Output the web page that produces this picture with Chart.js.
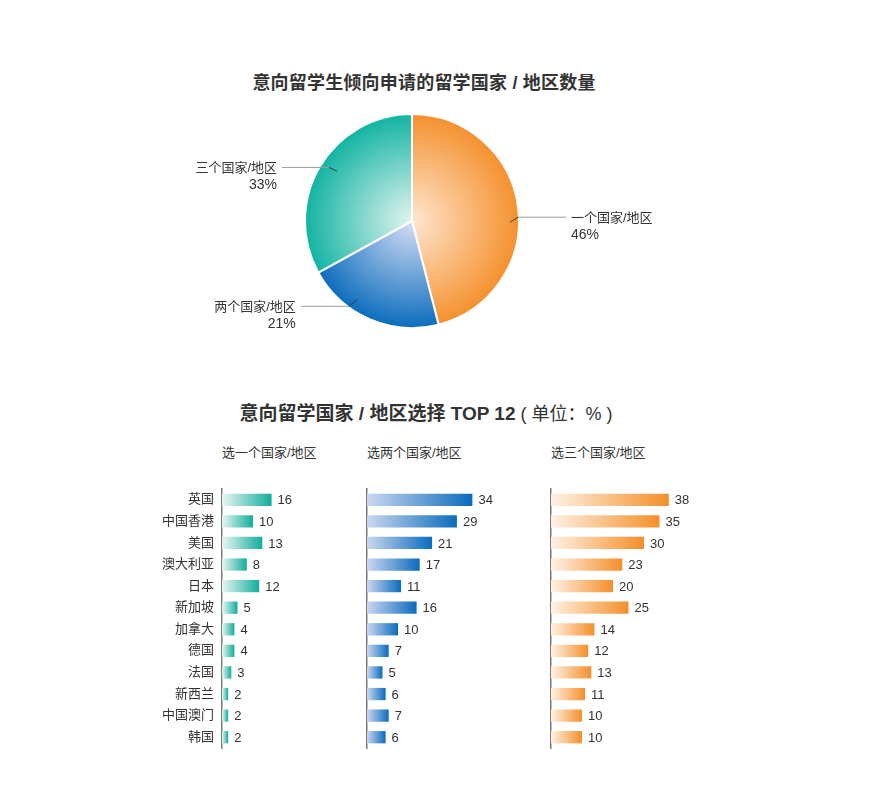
<!DOCTYPE html>
<html>
<head>
<meta charset="utf-8">
<script src="https://cdn.jsdelivr.net/npm/chart.js@4.4.0/dist/chart.umd.min.js"></script>
<style>
  body { margin: 0; background: #fff; width: 875px; height: 809px; position: relative; overflow: hidden;
         font-family: "Liberation Sans", "Noto Sans CJK SC", sans-serif; color: #333; }
  .t { position: absolute; white-space: nowrap; line-height: 20px; }
  canvas { position: absolute; }
</style>
</head>
<body>
<div class="t" style="left:0;width:848px;text-align:center;top:73px;font-size:18px;font-weight:bold;letter-spacing:0.2px;">意向留学生倾向申请的留学国家 / 地区数量</div>
<div class="t" style="left:0;width:852px;text-align:center;top:404px;font-size:18px;">
  <b style="font-size:19px;">意向留学国家 / 地区选择 TOP 12</b> ( 单位：% )
</div>
<div class="t" style="left:222px;top:443px;font-size:13px;">选一个国家/地区</div>
<div class="t" style="left:367px;top:443px;font-size:13px;">选两个国家/地区</div>
<div class="t" style="left:551px;top:443px;font-size:13px;">选三个国家/地区</div>

<canvas id="pie" width="524" height="244" style="left:150px;top:100px;"></canvas>
<canvas id="bar1" width="236" height="280" style="left:140px;top:480px;"></canvas>
<canvas id="bar2" width="164" height="280" style="left:357px;top:480px;"></canvas>
<canvas id="bar3" width="164" height="280" style="left:541px;top:480px;"></canvas>

<script>
const FONT = '"Liberation Sans", "Noto Sans CJK SC", sans-serif';

// pie data
const pieLabels = ["一个国家/地区", "两个国家/地区", "三个国家/地区"];
const pieValues = [46, 21, 33];

// bar data (%)
const countries = ["英国", "中国香港", "美国", "澳大利亚", "日本", "新加坡", "加拿大", "德国", "法国", "新西兰", "中国澳门", "韩国"];
const oneValues = [16, 10, 13, 8, 12, 5, 4, 4, 3, 2, 2, 2];
const twoValues = [34, 29, 21, 17, 11, 16, 10, 7, 5, 6, 7, 6];
const threeValues = [38, 35, 30, 23, 20, 25, 14, 12, 13, 11, 10, 10];

const pieColors = [["#fee6d0", "#f4902c"], ["#d6def4", "#0a6cbd"], ["#e4f4f0", "#10b3a2"]];

const radialFill = (ctx) => {
  const [inner, outer] = pieColors[ctx.dataIndex];
  const area = ctx.chart.chartArea;
  if (!area) return outer;
  const cx = (area.left + area.right) / 2;
  const cy = (area.top + area.bottom) / 2;
  const r = Math.min(area.width, area.height) / 2;
  const g = ctx.chart.ctx.createRadialGradient(cx, cy, 0, cx, cy, r);
  g.addColorStop(0, inner);
  g.addColorStop(1, outer);
  return g;
};

// leader line placement for each slice label
const leaders = [
  { deg: 0.7, rf: 0.916, bend: [8, -5], run: 48 },
  { deg: 124.7, rf: 0.89, bend: [-9, 7], run: -48 },
  { deg: 213.5, rf: 0.84, bend: [-8, -4], run: -47 },
];

const pieLabelPlugin = {
  id: "pieLabels",
  afterDatasetsDraw(chart) {
    const { ctx } = chart;
    const meta = chart.getDatasetMeta(0);
    ctx.save();
    meta.data.forEach((arc, i) => {
      const l = leaders[i];
      const a = (l.deg * Math.PI) / 180;
      const x0 = arc.x + Math.cos(a) * arc.outerRadius * l.rf;
      const y0 = arc.y + Math.sin(a) * arc.outerRadius * l.rf;
      const x1 = x0 + l.bend[0];
      const y1 = y0 + l.bend[1];
      const x2 = x1 + l.run;
      ctx.lineWidth = 1;
      ctx.strokeStyle = "#3a3a3a";
      ctx.beginPath();
      ctx.moveTo(x0, y0);
      ctx.lineTo(x1, y1);
      ctx.stroke();
      ctx.strokeStyle = "#9a9a9a";
      ctx.beginPath();
      ctx.moveTo(x1, y1);
      ctx.lineTo(x2, y1);
      ctx.stroke();
      const right = l.run > 0;
      const tx = right ? x2 + 5 : x2 - 5;
      ctx.textAlign = right ? "left" : "right";
      ctx.textBaseline = "middle";
      ctx.fillStyle = "#333";
      ctx.font = "13px " + FONT;
      ctx.fillText(pieLabels[i], tx, y1 + 1);
      ctx.font = "14px " + FONT;
      ctx.fillText(pieValues[i] + "%", tx, y1 + 18);
    });
    ctx.restore();
  },
};

new Chart(document.getElementById("pie"), {
  type: "pie",
  data: {
    labels: pieLabels,
    datasets: [{ data: pieValues, backgroundColor: radialFill, borderColor: "#fff", borderWidth: 2 }],
  },
  options: {
    responsive: false,
    animation: false,
    layout: { padding: { left: 154, right: 154, top: 13, bottom: 15 } },
    plugins: { legend: { display: false }, tooltip: { enabled: false } },
  },
  plugins: [pieLabelPlugin],
});

const barColors = {
  one: ["#e8f6f3", "#12ad9c"],
  two: ["#cbd7f0", "#0a6cbd"],
  three: ["#fff2e5", "#f48f2a"],
};

const valueLabels = {
  id: "valueLabels",
  afterDatasetsDraw(chart) {
    const { ctx } = chart;
    const meta = chart.getDatasetMeta(0);
    const data = chart.data.datasets[0].data;
    ctx.save();
    ctx.font = "13px " + FONT;
    ctx.fillStyle = "#333";
    ctx.textAlign = "left";
    ctx.textBaseline = "middle";
    meta.data.forEach((bar, i) => ctx.fillText(String(data[i]), bar.x + 6, bar.y + 1));
    ctx.restore();
  },
};

const buildBars = (id, values, colors, axisWidth, showNames) => {
  new Chart(document.getElementById(id), {
    type: "bar",
    data: {
      labels: countries,
      datasets: [{
        data: values,
        barPercentage: 0.57,
        categoryPercentage: 1,
        backgroundColor: (ctx) => {
          const xs = ctx.chart.scales.x;
          if (!xs || !ctx.chart.chartArea) return colors[1];
          const x0 = xs.getPixelForValue(0);
          const x1 = xs.getPixelForValue(ctx.raw);
          const g = ctx.chart.ctx.createLinearGradient(x0, 0, Math.max(x1, x0 + 1), 0);
          g.addColorStop(0, colors[0]);
          g.addColorStop(1, colors[1]);
          return g;
        },
      }],
    },
    options: {
      indexAxis: "y",
      responsive: false,
      animation: false,
      layout: { padding: { left: 0, right: 30, top: 9, bottom: 12 } },
      scales: {
        x: { display: false, min: 0, max: 40 },
        y: {
          afterFit: (scale) => {
            scale.width = axisWidth;
            scale.paddingTop = 0;
            scale.paddingBottom = 0;
          },
          grid: { display: false, drawTicks: false },
          border: { display: true, color: "#7a7a7a", width: 1.5 },
          ticks: { display: showNames, padding: 8, color: "#333", font: { size: 13, family: FONT } },
        },
      },
      plugins: { legend: { display: false }, tooltip: { enabled: false } },
    },
    plugins: [valueLabels],
  });
};

buildBars("bar1", oneValues, barColors.one, 82, true);
buildBars("bar2", twoValues, barColors.two, 10, false);
buildBars("bar3", threeValues, barColors.three, 10, false);
</script>
</body>
</html>
